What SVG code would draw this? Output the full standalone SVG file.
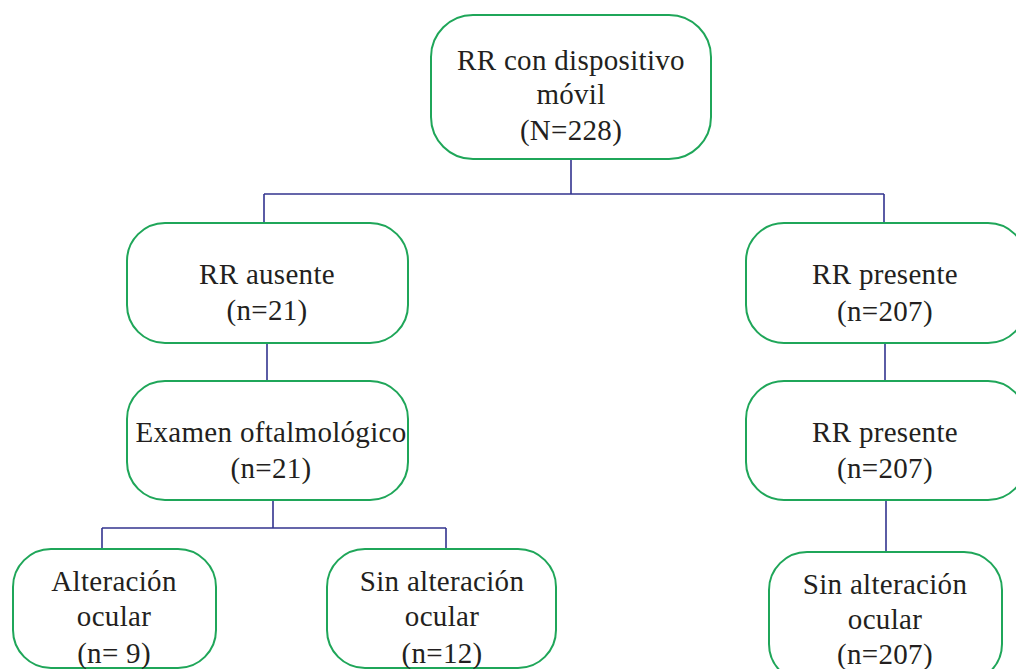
<svg xmlns="http://www.w3.org/2000/svg" width="1016" height="669" viewBox="0 0 1016 669">
<style>
.box{fill:#fff;stroke:#1fa659;stroke-width:2}
.c{fill:none;stroke:#33348f;stroke-width:1.6}
text{font-family:"Liberation Serif","DejaVu Serif",serif;font-size:29px;fill:#231f20;text-anchor:middle;letter-spacing:0.3px}
</style>
<rect width="1016" height="669" fill="#fff"/>
<g id="connectors">
<path class="c" d="M571,159V194M264,194H884M264,194V223M884,194V223"/>
<path class="c" d="M267,343V381"/>
<path class="c" d="M273,500V528M102,528H446M102,528V549M446,528V549"/>
<path class="c" d="M885,343V381"/>
<path class="c" d="M886,500V552"/>
</g>
<g id="n-root">
<rect class="box" x="431" y="15" width="280" height="144" rx="42"/>
<text x="571" y="70">RR con dispositivo</text>
<text x="571" y="104">móvil</text>
<text x="571" y="140">(N=228)</text>
</g>
<g id="n-ausente">
<rect class="box" x="127" y="223" width="281" height="120" rx="38"/>
<text x="267" y="284">RR ausente</text>
<text x="267" y="320">(n=21)</text>
</g>
<g id="n-examen">
<rect class="box" x="127" y="381" width="281" height="119" rx="38"/>
<text x="271" y="442">Examen oftalmológico</text>
<text x="271" y="478">(n=21)</text>
</g>
<g id="n-alteracion">
<rect class="box" x="13" y="549" width="203" height="119" rx="38"/>
<text x="114" y="591">Alteración</text>
<text x="114" y="626">ocular</text>
<text x="114" y="663">(n= 9)</text>
</g>
<g id="n-sin1">
<rect class="box" x="327" y="549" width="229" height="119" rx="38"/>
<text x="442" y="591">Sin alteración</text>
<text x="442" y="626">ocular</text>
<text x="442" y="663">(n=12)</text>
</g>
<g id="n-presente1">
<rect class="box" x="746" y="223" width="280" height="120" rx="38"/>
<text x="885" y="284">RR presente</text>
<text x="885" y="321">(n=207)</text>
</g>
<g id="n-presente2">
<rect class="box" x="746" y="381" width="280" height="119" rx="38"/>
<text x="885" y="442">RR presente</text>
<text x="885" y="478">(n=207)</text>
</g>
<g id="n-sin2">
<rect class="box" x="769" y="552" width="233" height="130" rx="38"/>
<text x="885" y="594">Sin alteración</text>
<text x="885" y="629">ocular</text>
<text x="885" y="664">(n=207)</text>
</g>
</svg>
